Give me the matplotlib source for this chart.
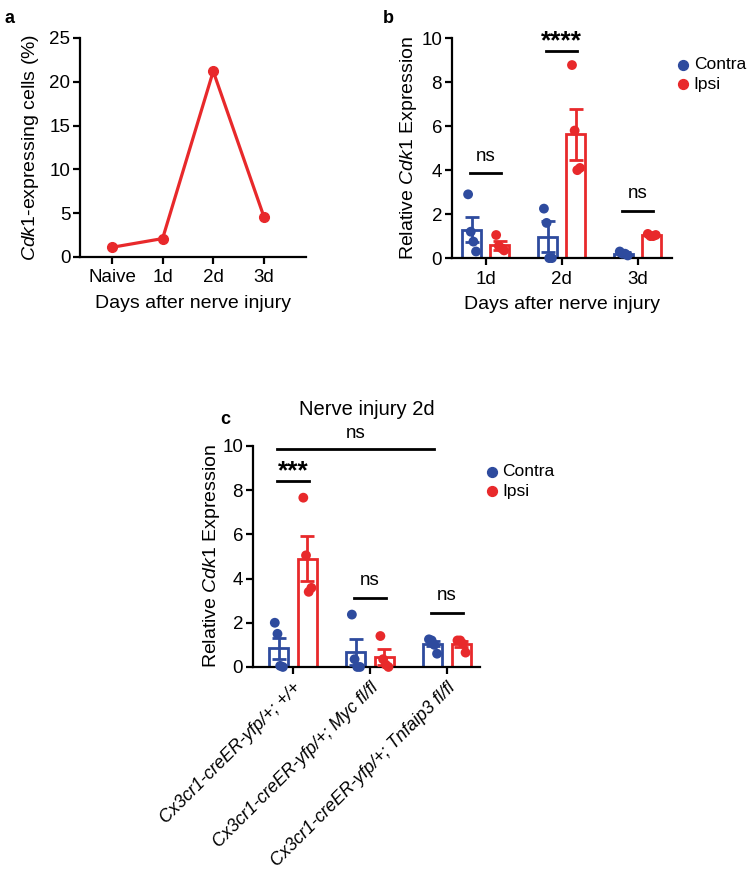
import numpy as np
import matplotlib
matplotlib.use("Agg")
import matplotlib.pyplot as plt

plt.rcParams['font.family'] = ['Liberation Sans', 'DejaVu Sans']
plt.rcParams['mathtext.fontset'] = 'custom'
plt.rcParams['mathtext.it'] = 'Liberation Sans:italic'
plt.rcParams['mathtext.rm'] = 'Liberation Sans'

RED = '#E8292B'
BLUE = '#2E4B9E'

# ---------------- data ----------------
# Panel a
a_days = ['Naive', '1d', '2d', '3d']
a_values = [1.1, 2.1, 21.2, 4.6]

# Panel b
b_days = ['1d', '2d', '3d']
b_contra_mean = [1.28, 0.97, 0.20]
b_contra_sem = [0.57, 0.71, 0.06]
b_ipsi_mean = [0.59, 5.63, 1.04]
b_ipsi_sem = [0.20, 1.15, 0.03]
b_contra_pts = [[2.9, 1.2, 0.75, 0.3], [2.25, 1.6, 0.0, 0.0], [0.3, 0.2, 0.2, 0.12]]
b_ipsi_pts = [[1.05, 0.55, 0.45, 0.35], [8.78, 5.8, 4.0, 4.1], [1.1, 1.0, 1.0, 1.05]]
b_sig = ['ns', '****', 'ns']
b_sig_line = [3.85, 9.42, 2.15]

# Panel c
c_groups = ['Cx3cr1-creER-yfp/+; +/+', 'Cx3cr1-creER-yfp/+; Myc fl/fl',
            'Cx3cr1-creER-yfp/+; Tnfaip3 fl/fl']
c_contra_mean = [0.85, 0.68, 1.05]
c_contra_sem = [0.48, 0.59, 0.12]
c_ipsi_mean = [4.9, 0.45, 1.03]
c_ipsi_sem = [1.02, 0.37, 0.13]
c_contra_pts = [[2.0, 1.5, 0.05, 0.0], [2.37, 0.35, 0.0, 0.0], [1.25, 1.2, 1.0, 0.6]]
c_ipsi_pts = [[7.66, 5.05, 3.4, 3.58], [1.4, 0.35, 0.1, 0.0], [1.2, 1.2, 1.05, 0.65]]
c_sig = ['***', 'ns', 'ns']
c_sig_line = [8.41, 3.14, 2.46]
c_overall_sig = 'ns'
c_overall_line = 9.85

fig = plt.figure(figsize=(7.48, 8.69), dpi=100)

TICK_FS = 13.5
LAB_FS = 14

def style_axes(ax):
    for s in ['top', 'right']:
        ax.spines[s].set_visible(False)
    for s in ['left', 'bottom']:
        ax.spines[s].set_linewidth(1.6)
        ax.spines[s].set_color('black')
    ax.tick_params(width=1.6, length=5, labelsize=TICK_FS, color='black', pad=2)
    ax.tick_params(axis='x', pad=4)

# ---------------- Panel a ----------------
axa = fig.add_axes([0.107, 0.7043, 0.302, 0.2520])
style_axes(axa)
xa = np.arange(len(a_days))
axa.plot(xa, a_values, color=RED, lw=2.3, marker='o', ms=7, clip_on=False)
axa.set_xlim(-0.63, 3.83)
axa.set_ylim(0, 25)
axa.set_yticks([0, 5, 10, 15, 20, 25])
axa.set_xticks(xa)
axa.set_xticklabels(a_days)
axa.set_ylabel(r'$\mathit{Cdk1}$-expressing cells (%)', fontsize=LAB_FS)
axa.set_xlabel('Days after nerve injury', fontsize=LAB_FS, labelpad=6)
axa.yaxis.set_label_coords(-0.175, 0.5)
fig.text(0.006, 0.988, 'a', fontsize=13, fontweight='bold', va='top')

W = 0.25
OFF = 0.185
JIT = np.array([-0.05, -0.015, 0.02, 0.055])

def bars(ax, means, sems, pts, xs, color):
    ax.bar(xs, means, width=W, facecolor='white', edgecolor=color, linewidth=2.0, zorder=2)
    ax.errorbar(xs, means, yerr=sems, fmt='none', ecolor=color, elinewidth=2.0,
                capsize=5, capthick=2.0, zorder=3)
    for x, p in zip(xs, pts):
        ax.scatter(x + JIT[:len(p)], p, s=50, color=color, zorder=4, clip_on=False,
                   edgecolors='none')

def sig(ax, x0, x1, y, txt, dy, star):
    ax.plot([x0, x1], [y, y], color='black', lw=2.0, clip_on=False)
    if star:
        ax.text((x0 + x1) / 2, y + dy, txt, ha='center', va='center', fontsize=19,
                fontweight='bold')
    else:
        ax.text((x0 + x1) / 2, y + dy, txt, ha='center', va='center', fontsize=13.5)

def legend(ax, anchor):
    h = [ax.scatter([], [], s=50, color=BLUE, label='Contra'),
         ax.scatter([], [], s=50, color=RED, label='Ipsi')]
    ax.legend(handles=h, loc='upper left', bbox_to_anchor=anchor, frameon=False,
              fontsize=12.5, handletextpad=0.1, labelspacing=0.25, borderaxespad=0,
              handlelength=1.0)

# ---------------- Panel b ----------------
axb = fig.add_axes([0.604, 0.703, 0.294, 0.253])
style_axes(axb)
xb = np.arange(len(b_days))
bars(axb, b_contra_mean, b_contra_sem, b_contra_pts, xb - OFF, BLUE)
bars(axb, b_ipsi_mean, b_ipsi_sem, b_ipsi_pts, xb + OFF, RED)
axb.set_xlim(-0.45, 2.45)
axb.set_ylim(0, 10)
axb.set_yticks([0, 2, 4, 6, 8, 10])
axb.set_xticks(xb)
axb.set_xticklabels(b_days)
for i, (t, y) in enumerate(zip(b_sig, b_sig_line)):
    star = '*' in t
    sig(axb, i - OFF - 0.02, i + OFF + 0.02, y, t, 0.45 if star else 0.78, star)
axb.set_ylabel(r'Relative $\mathit{Cdk1}$ Expression', fontsize=LAB_FS)
axb.set_xlabel('Days after nerve injury', fontsize=LAB_FS, labelpad=6)
axb.yaxis.set_label_coords(-0.15, 0.5)
legend(axb, (0.982, 0.945))
fig.text(0.512, 0.988, 'b', fontsize=13, fontweight='bold', va='top')

# ---------------- Panel c ----------------
axc = fig.add_axes([0.338, 0.2325, 0.304, 0.2543])
style_axes(axc)
xc = np.arange(len(c_groups))
bars(axc, c_contra_mean, c_contra_sem, c_contra_pts, xc - OFF, BLUE)
bars(axc, c_ipsi_mean, c_ipsi_sem, c_ipsi_pts, xc + OFF, RED)
axc.set_xlim(-0.52, 2.43)
axc.set_ylim(0, 10)
axc.set_yticks([0, 2, 4, 6, 8, 10])
axc.set_xticks(xc)
axc.set_xticklabels(c_groups, rotation=45, ha='right', rotation_mode='anchor',
                    style='italic', fontsize=12.8)
for i, (t, y) in enumerate(zip(c_sig, c_sig_line)):
    star = '*' in t
    sig(axc, i - OFF - 0.02, i + OFF + 0.02, y, t, 0.45 if star else 0.78, star)
sig(axc, 0 - OFF - 0.02, 2 - OFF + 0.02, c_overall_line, c_overall_sig, 0.72, False)
axc.set_ylabel(r'Relative $\mathit{Cdk1}$ Expression', fontsize=LAB_FS)
axc.yaxis.set_label_coords(-0.135, 0.5)
axc.set_title('Nerve injury 2d', fontsize=14.5, pad=22)
legend(axc, (0.982, 0.95))
fig.text(0.295, 0.527, 'c', fontsize=13, fontweight='bold', va='top')

fig.savefig('out.png', dpi=100)
